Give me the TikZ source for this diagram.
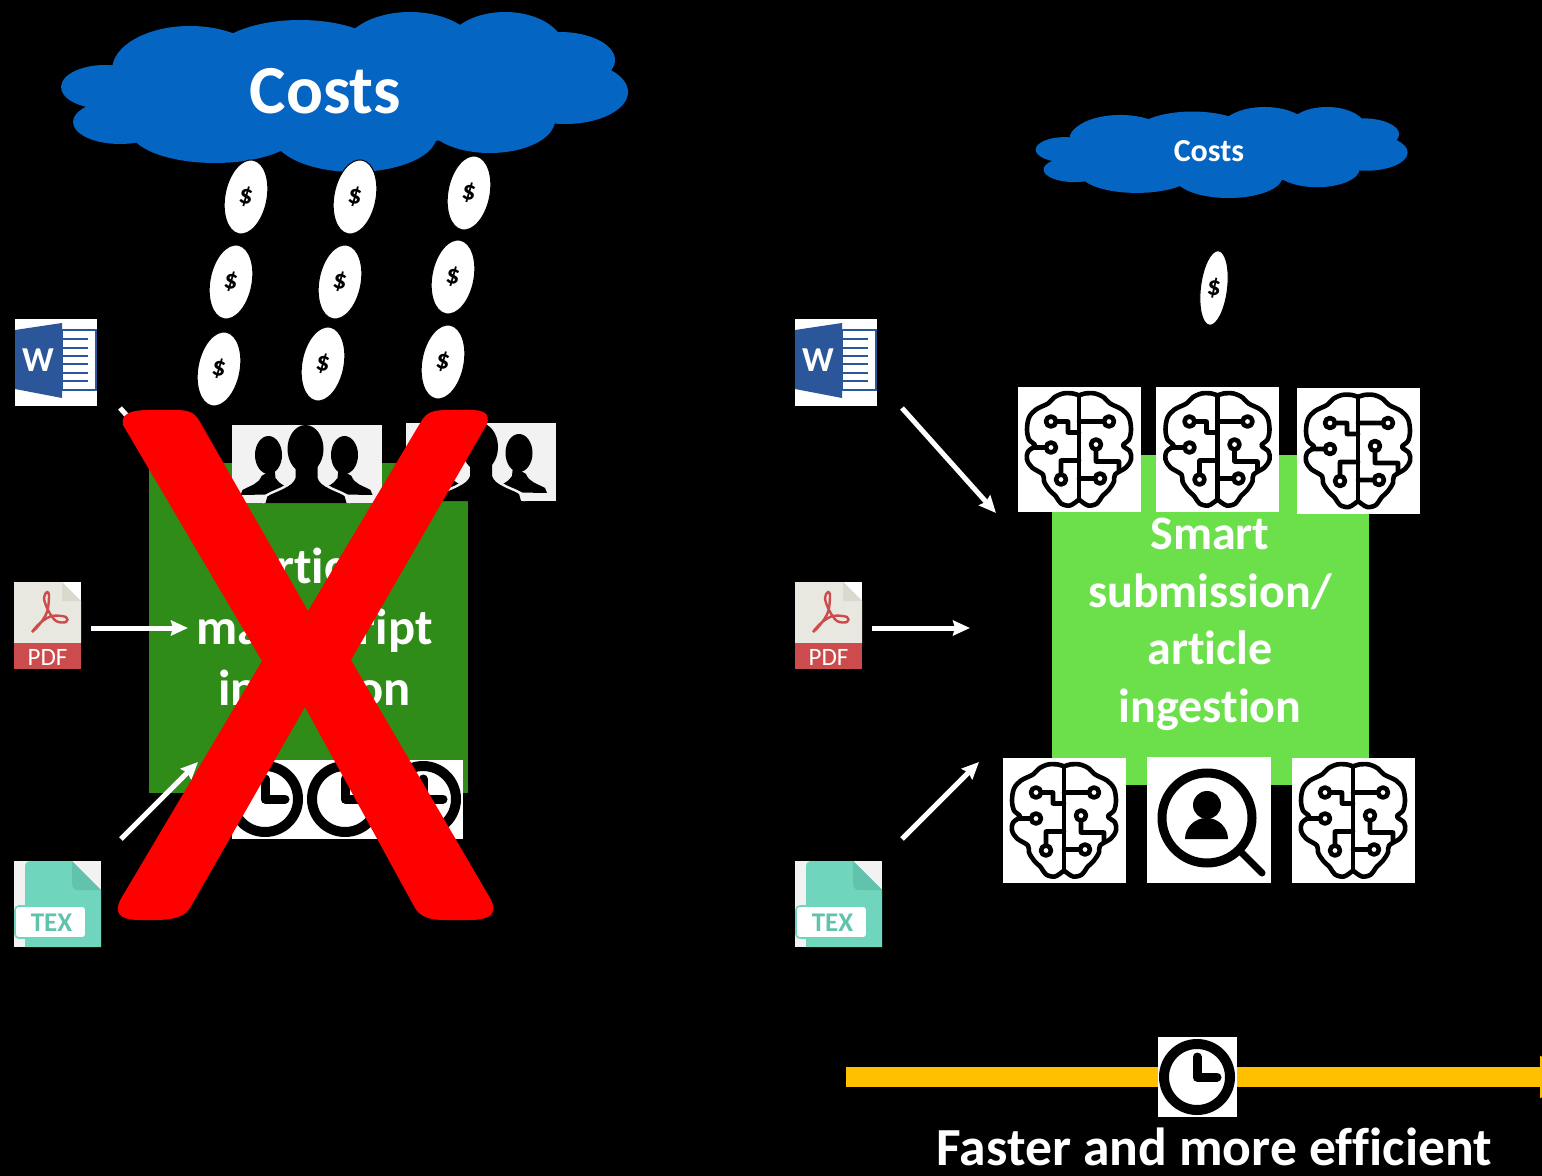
\documentclass[tikz,border=0pt]{standalone}
\usepackage{fontspec}
\setmainfont{Carlito}[Ligatures=NoCommon]
\usetikzlibrary{arrows.meta,
                positioning,
                shapes.geometric}
\definecolor{cloudblue}{HTML}{0565C2}
\definecolor{darkgreen}{HTML}{308C18}
\definecolor{lightgreen}{HTML}{6CE04B}
\definecolor{barorange}{HTML}{FFC000}
\definecolor{wordblue}{HTML}{2B579A}
\definecolor{pdfgrey}{HTML}{E8E8E0}
\definecolor{pdffold}{HTML}{D9D9CE}
\definecolor{pdfred}{HTML}{CC4B4C}
\definecolor{texgreen}{HTML}{6FD5BD}
\definecolor{texfold}{HTML}{61C3AC}
\definecolor{crowdgrey}{HTML}{F2F2F2}
\tikzset{
  flow/.style={white,line width=2.5pt,-{Stealth[length=8.5pt,width=7.5pt,inset=1pt]}},
  bigbox/.style={minimum height=165pt,inner sep=0pt},
  whitebox/.style={fill=white,inner sep=0pt},
  coin/.style={ellipse,fill=white,draw=black,line width=.5pt,inner sep=0pt,minimum width=21pt,minimum height=37.5pt,
    rotate=-11,font=\fontsize{13.5}{13.5}\selectfont\bfseries},
  boxtext/.style={white,align=center,font=\bfseries},
  icon/.style={line width=2.3pt,line join=round,line cap=round},
  cloudicon/.pic={
    \fill[cloudblue] (-15,0) ellipse [x radius=230,y radius=55]
      (-155,-22) ellipse [x radius=78,y radius=44]
      (-45,-32) ellipse [x radius=90,y radius=40]
      (65,-37) ellipse [x radius=70,y radius=43]
      (160,-42) ellipse [x radius=60,y radius=38]
      (215,-32) ellipse [x radius=55,y radius=28]
      (220,0) ellipse [x radius=63,y radius=32]
      (145,28) ellipse [x radius=65,y radius=33]
      (10,43) ellipse [x radius=82,y radius=37]
      (-130,38) ellipse [x radius=85,y radius=33]
      (-225,30) ellipse [x radius=47,y radius=22]
      (-240,-5) ellipse [x radius=44,y radius=22];
  },
  clockicon/.pic={
    \draw[line width=5pt] (0,0) circle (33);
    \draw[line width=4.5pt,line cap=round,line join=round] (0,-20) -- (0,0) -- (20,0);
  },
  brainicon/.pic={
    \fill[white] (-61.5,-62.5) rectangle (61.5,62.5);
    \draw[icon] (0,-54) -- (0,50);
    \foreach \s in {1,-1}
      \draw[icon,xscale=\s] plot[smooth,tension=.55] coordinates {(0,-54) (-6,-56) (-16,-56)
        (-25,-52) (-31,-46) (-43,-40) (-50,-32) (-52,-20) (-50,-10) (-44,-4) (-51,2) (-52,10)
        (-47,18) (-36,25) (-35,32) (-30,40) (-23,47) (-18,54) (-9,56) (0,50)};
    \draw[icon] (-28,-28) circle (5) (-23,-28) -- (-11,-28) -- (-11,-17) -- (0,-17);
    \draw[icon] (-28,-2) circle (5) (-33,-2) -- (-46,-2);
    \draw[icon] (-18,30) circle (5) (-18,25) -- (-18,11) -- (0,11);
    \draw[icon] (30,-28) circle (5) (25,-28) -- (0,-28);
    \draw[icon] (17,-5) circle (5) (17,0) -- (17,12) -- (40,12) -- (40,21);
    \draw[icon] (21,29) circle (5) (16,29) -- (0,29);
  },
  searchicon/.pic={
    \fill[white] (-62,-63) rectangle (62,63);
    \draw[line width=4.5pt] (-2,-2) circle (45);
    \draw[line width=3.5pt,line cap=round] (33,33) -- (53,53);
    \fill[black] (-2,-15) circle (14);
    \fill[black] (-24,19) arc[start angle=180,end angle=360,x radius=21.5,y radius=21] -- cycle;
  },
  crowdicon/.pic={
    \fill[crowdgrey] (-75,-39) rectangle (75,39);
    \foreach \s in {1,-1} {
      \fill[black,xscale=\s] (38,-9) ellipse [x radius=13.5,y radius=19];
      \fill[black,xscale=\s] (66,31) -- (64,26) .. controls (55,21) and (48,20) .. (45,12) -- (32,4) -- (31,14)
        .. controls (28,20) and (20,22) .. (10,30) -- cycle;
    }
    \fill[black] (-41,39) -- (-39,32) .. controls (-30,26) and (-14,24) .. (-11,14)
      -- (-11,0) -- (11,0) -- (11,14) .. controls (14,24) and (30,26) .. (38,32) -- (40,39) -- cycle;
    \draw[crowdgrey,line width=1.2pt] (-44,39) -- (-41,32) .. controls (-32,26) and (-17,24) .. (-14,14)
      (44,39) -- (41,32) .. controls (32,26) and (17,24) .. (14,14);
    \fill[black] (-1,-15) ellipse [x radius=18,y radius=24];
  },
  wordicon/.pic={
    \fill[white] (0,0) rectangle (82,87);
    \draw[wordblue,line width=.8pt,fill=white] (47,11) rectangle (81,71);
    \foreach \y in {20,29,37,45,54,62}
      \draw[wordblue,line width=1.4pt] (47,\y) -- (73,\y);
    \fill[wordblue] (0,11) -- (47,4) -- (47,79) -- (0,70) -- cycle;
    \node[white,font=\fontsize{17.5}{17.5}\selectfont\bfseries] at (23,41) {W};
  },
  pdficon/.pic={
    \fill[white] (0,0) rectangle (67,87);
    \fill[pdfgrey] (0,0) -- (48,0) -- (67,19) -- (67,61) -- (0,61) -- cycle;
    \fill[pdffold] (48,0) -- (67,19) -- (48,19) -- cycle;
    \fill[pdfred] (0,61) rectangle (67,87);
    \draw[pdfred,line width=1.2pt] plot[smooth,tension=.6] coordinates {(18,50) (25,43) (33,30) (35,14) (33,10)
      (30,16) (34,28) (42,39) (52,40) (52,35) (38,34) (26,41) (18,50)};
    \node[white,font=\fontsize{12.5}{12.5}\selectfont] at (33.5,75) {PDF};
  },
  texicon/.pic={
    \fill[crowdgrey] (0,0) rectangle (87,86);
    \fill[texgreen] (11,6) .. controls (11,2) and (13,0) .. (17,0) -- (58,0) -- (87,29) -- (87,86) -- (11,86) -- cycle;
    \fill[texfold] (58,0) -- (87,29) -- (64,29) .. controls (60,29) and (58,26) .. (58,23) -- cycle;
    \draw[texgreen,fill=white,line width=.8pt,rounded corners=2pt] (1,45) rectangle (72,77);
    \node[texfold,font=\fontsize{13.5}{13.5}\selectfont\bfseries] at (37.5,61.5) {TEX};
  }
}
\begin{document}
\begin{tikzpicture}[x=0.5pt,y=-0.5pt]
\useasboundingbox (0,0) rectangle (1542,1176);
\clip (0,0) rectangle (1542,1176);
\fill[black] (0,0) rectangle (1542,1176);

% left side
\coordinate (wordstartA) at (120,408);
\coordinate (wordendA) at (215,513);
\coordinate (pdfstartA) at (91,628);
\coordinate (pdfendA) at (188,628);
\coordinate (texstartA) at (121,839);
\coordinate (texendA) at (198,762);

\node[bigbox,fill=darkgreen,minimum width=159.5pt] (oldbox) at (308.5,628) {};
\node[boxtext,font=\fontsize{25.3}{30.5}\selectfont\bfseries] (oldtext) at (314.5,631) {Article\\manuscript\\ingestion};
\pic at (306.5,464) {crowdicon};
\pic at (481,462) {crowdicon};
\node[whitebox,minimum width=115.5pt,minimum height=39.5pt] (clockrow) at (347.5,799.5) {};
\foreach \x in {265,345,423}
  \pic at (\x,799) {clockicon};

\pic at (345,92) {cloudicon};
\node[white,font=\fontsize{34.4}{34.4}\selectfont\bfseries] (costsA) at (325.5,91) {Costs};
\foreach \x/\y [count=\i] in {246/197,355/197,469/193,231/282,340/282,453/277,219/369,323/364,443/362}
  \node[coin] (coin\i) at (\x,\y) {\$};

\pic at (15,319) {wordicon};
\pic at (14,582) {pdficon};
\pic at (14,861) {texicon};

\draw[flow] (wordstartA) -- (wordendA);
\draw[flow] (pdfstartA) -- (pdfendA);
\draw[flow] (texstartA) -- (texendA);

% the cross
\fill[red] (123,425) .. controls (120,412) and (135,410) .. (150,410) -- (175,410)
  .. controls (190,410) and (195,413) .. (200,422) -- (308,611) -- (422,420)
  .. controls (428,411) and (435,410) .. (450,410) -- (470,410)
  .. controls (485,410) and (490,414) .. (487,424) -- (351,660) -- (490,898)
  .. controls (497,910) and (495,920) .. (470,920) -- (445,920)
  .. controls (428,920) and (420,916) .. (415,908) -- (305,707) -- (190,908)
  .. controls (185,916) and (175,920) .. (155,920) -- (140,920)
  .. controls (118,920) and (113,912) .. (122,897) -- (262,661) -- cycle;

% right side
\coordinate (wordstartB) at (902,408);
\coordinate (wordendB) at (996,513);
\coordinate (pdfstartB) at (872,628);
\coordinate (pdfendB) at (970,628);
\coordinate (texstartB) at (902,839);
\coordinate (texendB) at (979,762);
\coordinate (barstart) at (846,1077);
\coordinate (barend) at (1576,1077);

\node[bigbox,fill=lightgreen,minimum width=158.5pt] (newbox) at (1210.5,620) {};
\node[boxtext,font=\fontsize{24}{28.75}\selectfont\bfseries] (newtext) at (1210,624.5) {Smart\\submission/\\article\\ingestion};
\pic at (1079,449.5) {brainicon};
\pic at (1217.5,449.5) {brainicon};
\pic at (1358,451) {brainicon};
\pic at (1064,820.5) {brainicon};
\pic at (1209,820) {searchicon};
\pic at (1353,820.5) {brainicon};

\pic[xscale=.656,yscale=.569] at (1222,152.5) {cloudicon};
\node[white,font=\fontsize{16}{16}\selectfont\bfseries] (costsB) at (1209,151) {Costs};
\node[coin,minimum width=13.5pt,rotate=4] (coinB) at (1214,288) {\$};

\pic at (795,319) {wordicon};
\pic at (795,582) {pdficon};
\pic at (795,861) {texicon};

\draw[flow] (wordstartB) -- (wordendB);
\draw[flow] (pdfstartB) -- (pdfendB);
\draw[flow] (texstartB) -- (texendB);

% time bar
\draw[barorange,line width=10pt,-{Triangle[length=18pt,width=20pt]}] (barstart) -- (barend);
\node[whitebox,minimum width=39.5pt,minimum height=40pt] (clockbg) at (1197.5,1077) {};
\pic at (1197,1077) {clockicon};
\node[white,inner sep=0pt,font=\fontsize{26.8}{26.8}\selectfont\bfseries] (fastertext) at (1214.5,1147) {Faster and more efficient};
\end{tikzpicture}
\end{document}
